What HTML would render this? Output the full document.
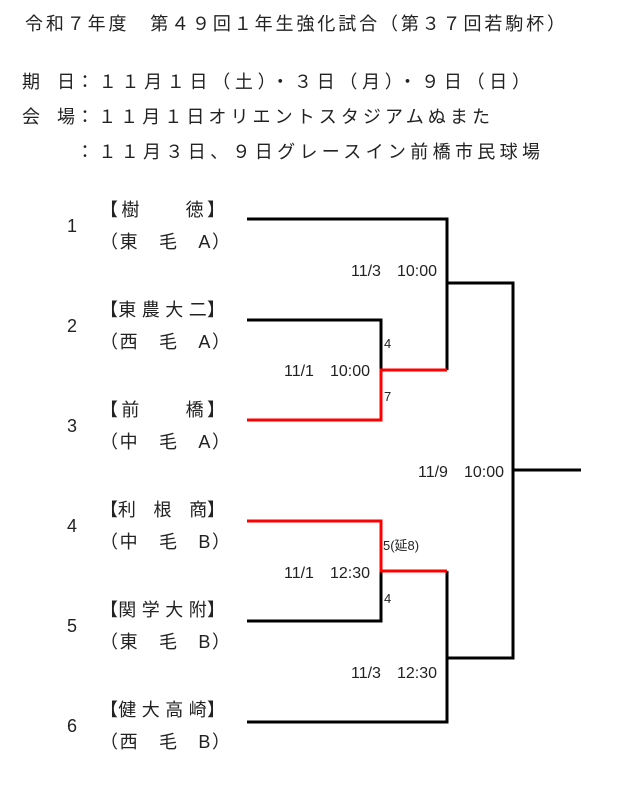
<!DOCTYPE html>
<html><head><meta charset="utf-8"><style>
html,body{margin:0;padding:0;background:#fff;width:630px;height:785px;overflow:hidden}
svg{display:block}
text{font-family:"Liberation Sans","Noto Sans CJK JP",sans-serif;fill:#222}
</style></head><body>
<svg width="630" height="785" viewBox="0 0 630 785" xmlns="http://www.w3.org/2000/svg">
<g font-size="18">
<text x="25" y="30" textLength="540" lengthAdjust="spacing">令和７年度　第４９回１年生強化試合（第３７回若駒杯）</text>
<text x="22" y="88">期</text><text x="57" y="88">日</text>
<text x="76" y="88" textLength="454" lengthAdjust="spacing">：１１月１日（土）・３日（月）・９日（日）</text>
<text x="22" y="123">会</text><text x="57" y="123">場</text>
<text x="76" y="123" textLength="414" lengthAdjust="spacing">：１１月１日オリエントスタジアムぬまた</text>
<text x="76" y="158" textLength="464" lengthAdjust="spacing">：１１月３日、９日グレースイン前橋市民球場</text>
</g>
<g font-size="18">
<text x="67" y="232">1</text><text x="67" y="332">2</text><text x="67" y="432">3</text>
<text x="67" y="532">4</text><text x="67" y="632">5</text><text x="67" y="732">6</text>
<text x="100" y="216" textLength="125" lengthAdjust="spacing">【樹　　徳】</text>
<text x="100" y="248" textLength="130" lengthAdjust="spacing">（東　毛　A）</text>
<text x="100" y="316" textLength="125" lengthAdjust="spacing">【東 農 大 二】</text>
<text x="100" y="348" textLength="130" lengthAdjust="spacing">（西　毛　A）</text>
<text x="100" y="416" textLength="125" lengthAdjust="spacing">【前　　橋】</text>
<text x="100" y="448" textLength="130" lengthAdjust="spacing">（中　毛　A）</text>
<text x="100" y="516" textLength="125" lengthAdjust="spacing">【利　根　商】</text>
<text x="100" y="548" textLength="130" lengthAdjust="spacing">（中　毛　B）</text>
<text x="100" y="616" textLength="125" lengthAdjust="spacing">【関 学 大 附】</text>
<text x="100" y="648" textLength="130" lengthAdjust="spacing">（東　毛　B）</text>
<text x="100" y="716" textLength="125" lengthAdjust="spacing">【健 大 高 崎】</text>
<text x="100" y="748" textLength="130" lengthAdjust="spacing">（西　毛　B）</text>
</g>
<g font-size="16" text-anchor="end" style="fill:#333">
<text x="437" y="276">11/3　10:00</text>
<text x="370" y="376">11/1　10:00</text>
<text x="504" y="477">11/9　10:00</text>
<text x="370" y="578">11/1　12:30</text>
<text x="437" y="678">11/3　12:30</text>
</g>
<g font-size="13">
<text x="384" y="348">4</text><text x="384" y="401">7</text>
<text x="383" y="550">5(延8)</text><text x="384" y="603">4</text>
</g>
<g fill="none" stroke="#000" stroke-width="3">
<polyline points="247,219 447,219 447,370"/>
<polyline points="247,320 381,320 381,370"/>
<polyline points="447,283 513,283 513,658 447,658"/>
<line x1="513" y1="470" x2="581" y2="470"/>
<polyline points="247,621 381,621 381,571"/>
<polyline points="247,722 447,722 447,571"/>
</g>
<g fill="none" stroke="#f00" stroke-width="3">
<polyline points="247,420 381,420 381,370 447,370"/>
<polyline points="247,521 381,521 381,571 447,571"/>
</g>
</svg>
</body></html>
